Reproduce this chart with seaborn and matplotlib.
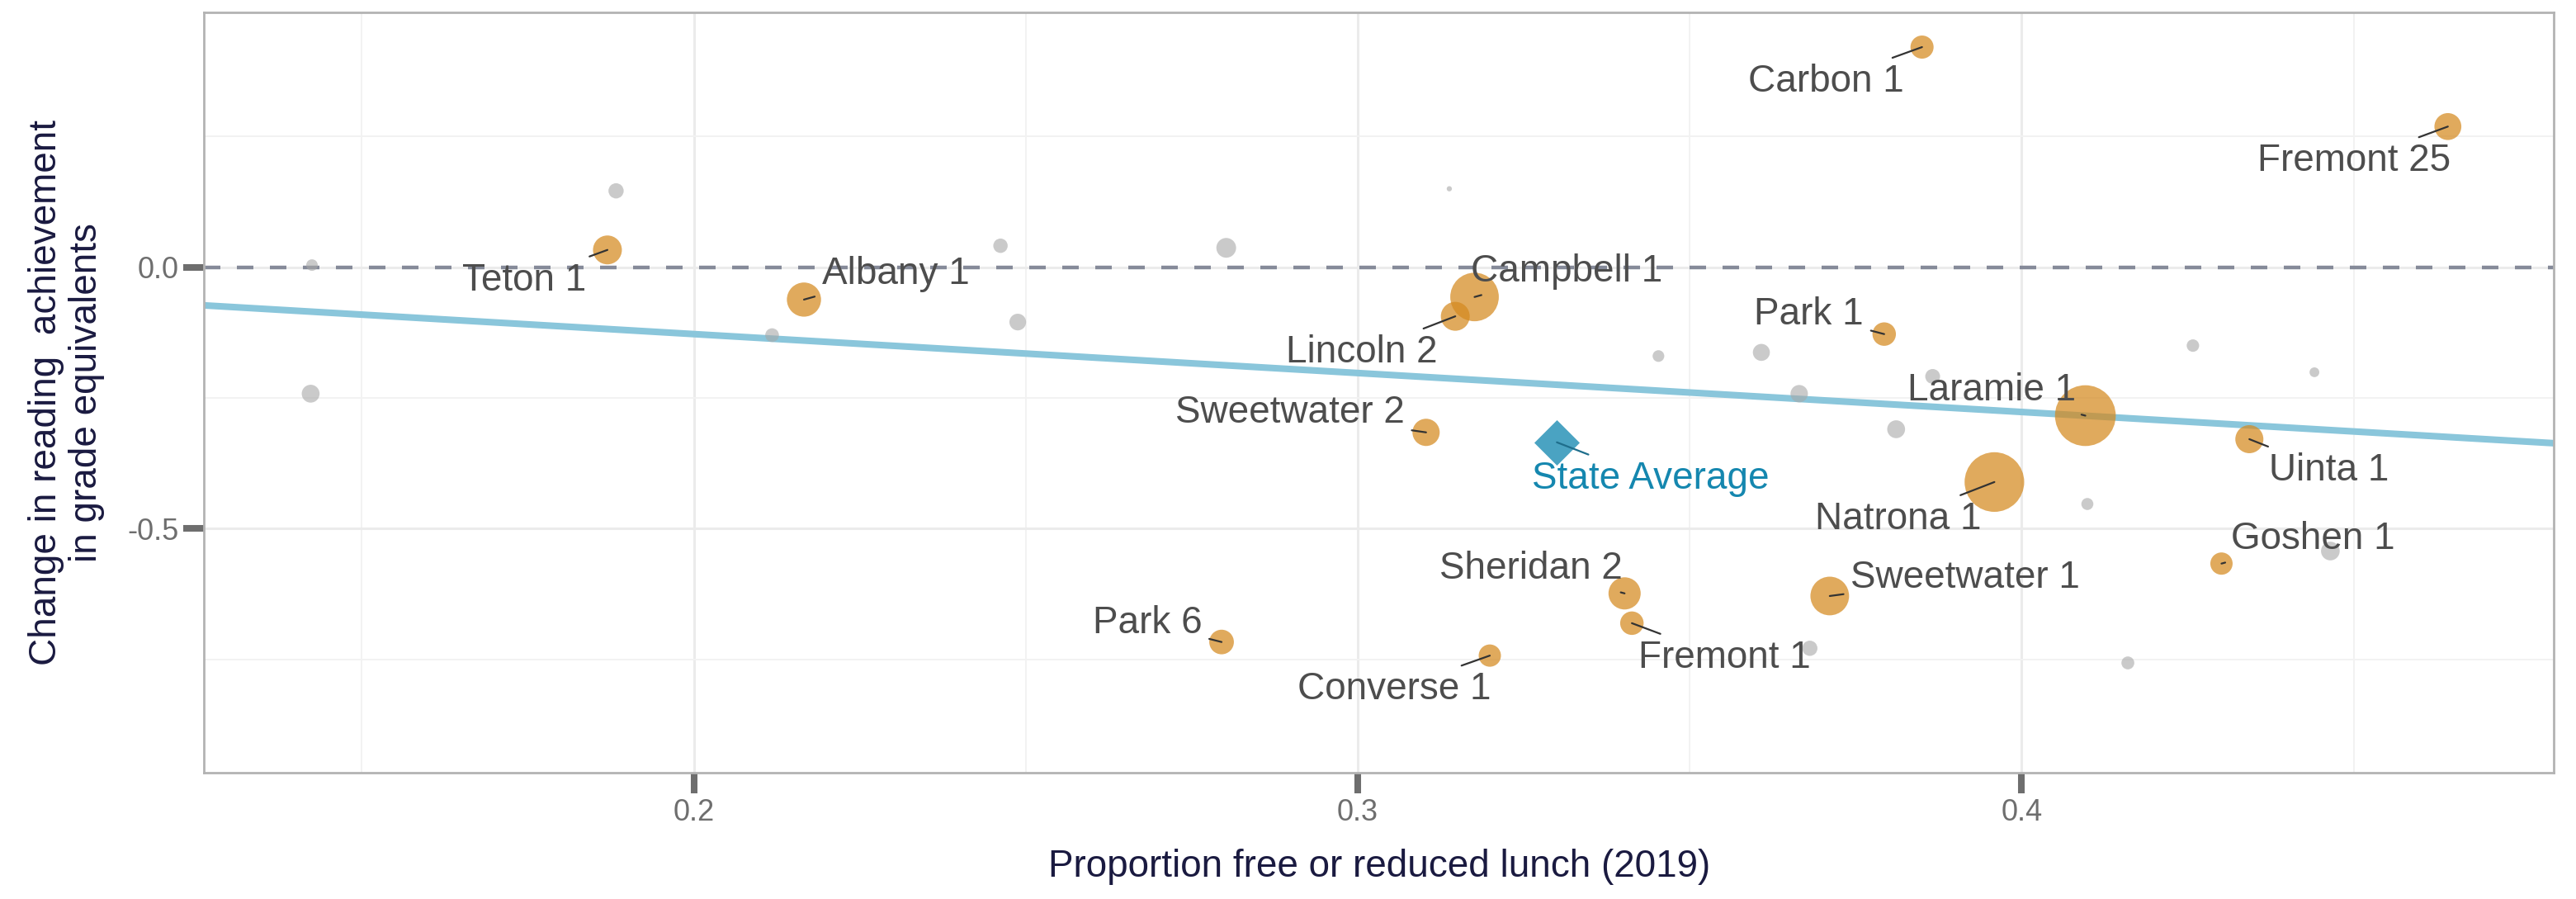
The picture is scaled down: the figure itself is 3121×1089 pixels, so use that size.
import matplotlib.pyplot as plt
import pandas as pd
import seaborn as sns

# labelled districts (orange)
named = ["Teton 1", "Albany 1", "Campbell 1", "Lincoln 2", "Carbon 1", "Park 1",
         "Fremont 25", "Sweetwater 2", "Sheridan 2", "Fremont 1", "Converse 1",
         "Sweetwater 1", "Park 6", "Laramie 1", "Natrona 1", "Uinta 1", "Goshen 1"]
named_frl = [0.1870, 0.2166, 0.3176, 0.3147, 0.3850, 0.3793,
             0.4642, 0.3103, 0.3402, 0.3413, 0.3199,
             0.3711, 0.2795, 0.4096, 0.3959, 0.4343, 0.4301]
named_change = [0.033, -0.062, -0.057, -0.094, 0.421, -0.128,
                0.269, -0.316, -0.624, -0.681, -0.743,
                -0.629, -0.717, -0.284, -0.411, -0.329, -0.567]
named_enroll = [3060, 4280, 8640, 3060, 1960, 2020,
                2660, 2720, 3800, 2020, 1820,
                5480, 2220, 13540, 13030, 2890, 1820]

# other districts (grey, unlabelled)
other_frl = [0.1425, 0.1883, 0.2118, 0.1423, 0.2462, 0.2488, 0.2802, 0.3138,
             0.3453, 0.3608, 0.4258, 0.3665, 0.3811, 0.3866, 0.3681, 0.4441,
             0.4099, 0.4465, 0.4160]
other_change = [0.004, 0.146, -0.130, -0.242, 0.041, -0.105, 0.037, 0.150,
                -0.170, -0.163, -0.150, -0.242, -0.310, -0.209, -0.729, -0.201,
                -0.453, -0.543, -0.757]
other_enroll = [490, 850, 690, 1170, 760, 1020, 1430, 100,
                500, 1060, 570, 1110, 1170, 810, 850, 350,
                530, 1280, 610]

state_frl = [0.330]
state_change = [-0.335]

# fitted line
fit_intercept = 0.021
fit_slope = -0.745

# label offsets (points) from each marker
label_dx = [-36.4, 40.0, 40.3, -41.0, -41.8, -32.8, -41.0, -59.4, -40.7, 40.3,
            -41.8, 59.2, -32.4, -41.0, -41.8, 34.6, 40.0]
label_dy = [-13.3, 11.2, 11.2, -15.8, -15.1, 8.6, -15.1, 8.6, 10.8, -15.1,
            -14.8, 7.9, 8.2, 10.8, -16.2, -13.7, 10.8]

named_df = pd.DataFrame({"frl": named_frl, "change": named_change, "enroll": named_enroll})
other_df = pd.DataFrame({"frl": other_frl, "change": other_change, "enroll": other_enroll})
state_df = pd.DataFrame({"frl": state_frl, "change": state_change})

sns.set_theme(style="white")
plt.rcParams["font.family"] = ["Liberation Sans", "DejaVu Sans"]
plt.rcParams["axes.unicode_minus"] = False

fig = plt.figure(figsize=(15.605, 5.445), dpi=200)
ax = fig.add_axes([0.0791, 0.1405, 0.9124, 0.8455])

size_kw = dict(size="enroll", sizes=(0, 726), size_norm=(0, 14000), legend=False)

ax.axhline(0, color="#858A99", lw=1.6, ls=(0, (4.5, 4.5)), zorder=1)
ax.axline((0, fit_intercept), slope=fit_slope, color="#8AC6DB", lw=2.9, zorder=2)

sns.scatterplot(data=other_df, x="frl", y="change", color="#A8A8A8", alpha=0.6,
                linewidth=0, ax=ax, zorder=3, **size_kw)
sns.scatterplot(data=named_df, x="frl", y="change", color="#D4891F", alpha=0.72,
                linewidth=0, ax=ax, zorder=4, **size_kw)
sns.scatterplot(data=state_df, x="frl", y="change", marker="D", s=196,
                color="#4AA3C2", linewidth=0, ax=ax, zorder=5, legend=False)

for name, x, y, dx, dy in zip(named, named_frl, named_change, label_dx, label_dy):
    ax.annotate(name, (x, y), xytext=(dx, dy), textcoords="offset points",
                ha="center", va="center", fontsize=16.5, color="#4D4D4D", zorder=6,
                arrowprops=dict(arrowstyle="-", color="#333333", lw=0.8,
                                shrinkA=1, shrinkB=0))
ax.annotate("State Average", (state_frl[0], state_change[0]), xytext=(40.7, -15.8),
            textcoords="offset points", ha="center", va="center", fontsize=16.5,
            color="#1587AF", zorder=6,
            arrowprops=dict(arrowstyle="-", color="#1F6E8C", lw=0.8, shrinkA=1, shrinkB=0))

ax.set_xlim(0.1262, 0.4802)
ax.set_ylim(-0.967, 0.487)
ax.set_xticks([0.2, 0.3, 0.4])
ax.set_xticklabels(["0.2", "0.3", "0.4"])
ax.set_xticks([0.15, 0.25, 0.35, 0.45], minor=True)
ax.set_yticks([0.0, -0.5])
ax.set_yticklabels(["0.0", "-0.5"])
ax.set_yticks([0.25, -0.25, -0.75], minor=True)

ax.grid(which="major", color="#EBEBEB", lw=1.1)
ax.grid(which="minor", color="#F2F2F2", lw=0.7)
ax.set_axisbelow(True)
for s in ax.spines.values():
    s.set_color("#B3B3B3")
    s.set_linewidth(1.0)

ax.tick_params(axis="both", which="major", length=9, width=2.9, color="#6E6E6E",
               labelsize=13, labelcolor="#6E6E6E", pad=2)
ax.tick_params(axis="both", which="minor", length=0)
ax.tick_params(axis="x", bottom=True)
ax.tick_params(axis="y", left=True)

ax.set_xlabel("Proportion free or reduced lunch (2019)", fontsize=16.5, color="#1A1A40")
ax.set_ylabel("Change in reading  achievement\nin grade equivalents", fontsize=16.5,
              color="#1A1A40", linespacing=1.15)
ax.xaxis.set_label_coords(0.5, -0.100)
ax.yaxis.set_label_coords(-0.042, 0.5)

fig.savefig("out.png", dpi=200)
